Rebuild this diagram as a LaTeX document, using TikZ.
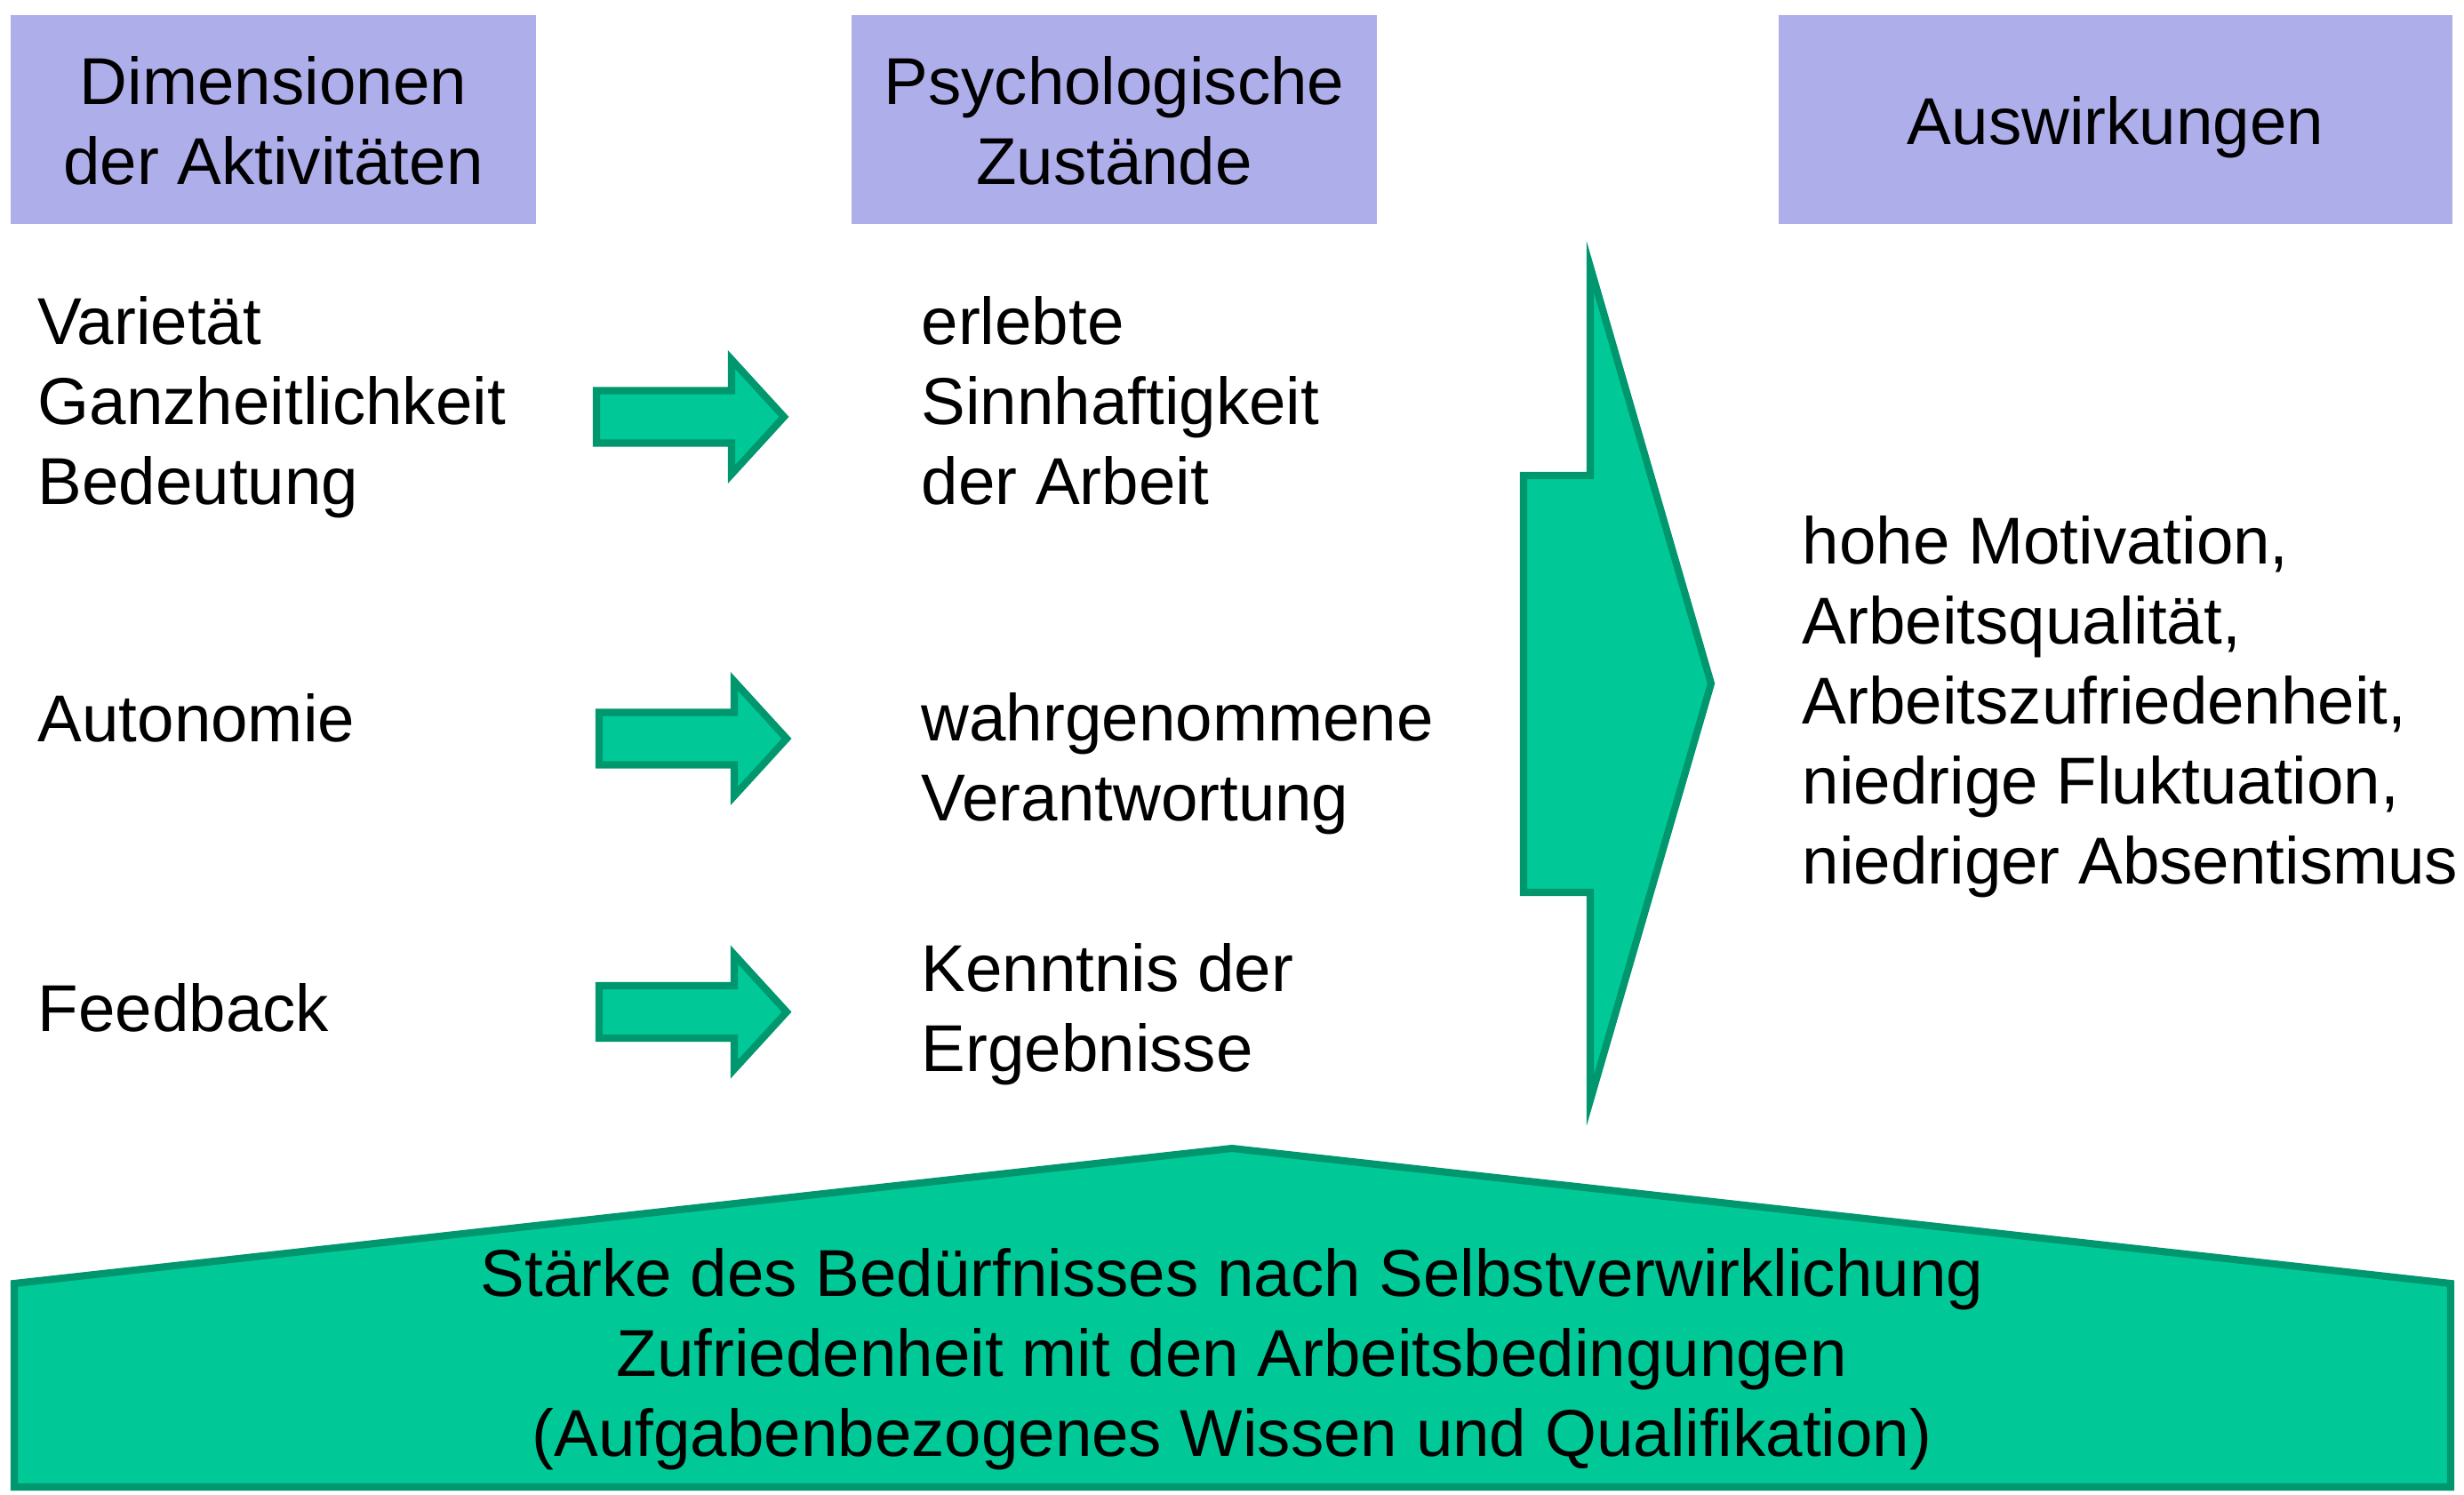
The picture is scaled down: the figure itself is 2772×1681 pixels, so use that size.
\documentclass[tikz,border=0pt]{standalone}
\usepackage{fontspec}
\setmainfont{Liberation Sans}
\definecolor{hdrfill}{RGB}{174,174,235}
\definecolor{grfill}{RGB}{0,201,151}
\definecolor{grline}{RGB}{0,150,110}
\tikzset{
  hdrbox/.style={fill=hdrfill, draw=none, inner sep=0pt},
  lfont/.style={font=\fontsize{21.2pt}{25.6pt}\selectfont},
  ltxt/.style={lfont, inner sep=0pt, align=left, anchor=north west},
  ctxt/.style={lfont, inner sep=0pt, align=center, anchor=north},
  grshape/.style={fill=grfill, draw=grline, line width=2.3pt, line join=miter},
  rarrow/.pic={\path[grshape] (0,-29.5) -- (152,-29.5) -- (152,-64.5) -- (211,0)
      -- (152,64.5) -- (152,29.5) -- (0,29.5) -- cycle;}
}
\begin{document}
\begin{tikzpicture}[x=0.01cm, y=-0.01cm]
\useasboundingbox (0,0) rectangle (2772,1681);

% header boxes
\node[hdrbox, minimum width=5.91cm, minimum height=2.35cm] (h1) at (307.5,134.5) {};
\node[hdrbox, minimum width=5.91cm, minimum height=2.35cm] (h2) at (1253.5,134.5) {};
\node[hdrbox, minimum width=7.58cm, minimum height=2.35cm] (h3) at (2380,134.5) {};
\node[ctxt] (h1t) at (307.5,54) {\strut Dimensionen\\der Aktivitäten};
\node[ctxt] (h2t) at (1253.5,54) {\strut Psychologische\\Zustände};
\node[ctxt] (h3t) at (2380,99) {\strut Auswirkungen};

% left column
\node[ltxt] (d1) at (42,324) {\strut Varietät\\Ganzheitlichkeit\\Bedeutung};
\node[ltxt] (d2) at (42,771) {\strut Autonomie};
\node[ltxt] (d3) at (42,1097) {\strut Feedback};

% middle column
\node[ltxt] (p1) at (1036,324) {\strut erlebte\\Sinnhaftigkeit\\der Arbeit};
\node[ltxt] (p2) at (1036,770) {\strut wahrgenommene\\Verantwortung};
\node[ltxt] (p3) at (1036,1052) {\strut Kenntnis der\\Ergebnisse};

% block arrows
\pic (a1) at (671,469) {rarrow};
\pic (a2) at (674,831) {rarrow};
\pic (a3) at (674,1138.5) {rarrow};

% big arrow
\path[grshape] (1714,535) -- (1789,535) -- (1789,300) -- (1925,769)
  -- (1789,1238) -- (1789,1004) -- (1714,1004) -- cycle;

% right column
\node[ltxt] (r1) at (2027,571) {\strut hohe Motivation,\\Arbeitsqualität,\\Arbeitszufriedenheit,\\niedrige Fluktuation,\\niedriger Absentismus};

% bottom pentagon
\path[grshape] (16,1673) -- (16,1444) -- (1386,1292) -- (2757,1444) -- (2757,1673) -- cycle;
\node[ctxt] (b1) at (1386,1395) {\strut Stärke des Bedürfnisses nach Selbstverwirklichung\\Zufriedenheit mit den Arbeitsbedingungen\\(Aufgabenbezogenes Wissen und Qualifikation)};
\end{tikzpicture}
\end{document}
